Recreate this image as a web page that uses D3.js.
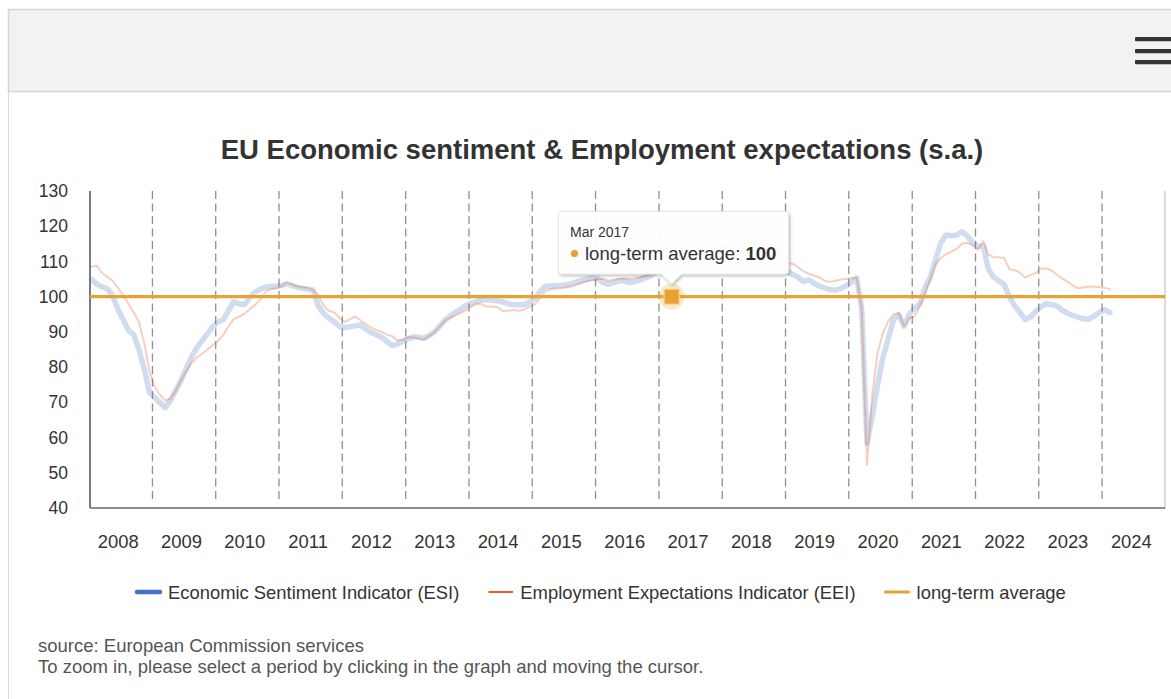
<!DOCTYPE html>
<html>
<head>
<meta charset="utf-8">
<script src="https://cdn.jsdelivr.net/npm/d3@7"></script>
<style>
  html, body { margin: 0; padding: 0; background: #fff; }
  svg { display: block; font-family: "Liberation Sans", Arial, Helvetica, sans-serif; }
</style>
</head>
<body>
<svg id="chart" width="1171" height="699"></svg>
<script>
// Monthly series, Jan 2008 – Feb 2024 (seasonally adjusted)
const startYear = 2008;
const esiValues = [
  // 2008
  104.8, 103.6, 102.8, 102.2, 100.5, 96.5, 93.6, 90.5, 89.2, 85.0, 79.5, 72.8,
  // 2009
  71.3, 69.8, 68.5, 70.5, 73.3, 76.3, 79.6, 83.0, 85.5, 87.5, 89.5, 91.5,
  // 2010
  92.8, 93.5, 96.0, 98.6, 98.0, 97.7, 99.6, 101.3, 102.1, 102.7, 102.9, 103.0,
  // 2011
  103.2, 103.6, 103.2, 102.7, 102.4, 102.1, 101.9, 97.5, 95.2, 94.0, 92.9, 91.5,
  // 2012
  91.2, 91.5, 91.7, 92.0, 90.8, 89.8, 89.2, 88.5, 87.3, 86.1, 86.5, 87.4,
  // 2013
  88.0, 88.6, 88.5, 88.2, 88.9, 90.0, 91.5, 93.3, 94.5, 95.6, 96.5, 97.5,
  // 2014
  98.2, 98.7, 99.0, 99.2, 99.0, 98.8, 98.5, 98.0, 97.7, 97.7, 97.7, 98.4,
  // 2015
  99.4, 101.5, 102.9, 103.0, 103.1, 103.2, 103.4, 103.7, 104.2, 104.6, 105.0, 105.3,
  // 2016
  105.0, 104.0, 103.5, 104.0, 104.5, 104.5, 104.0, 104.2, 104.8, 105.3, 106.0, 107.2,
  // 2017
  108.0, 108.5, 109.5, 109.8, 110.3, 111.0, 111.8, 112.0, 113.0, 114.0, 114.5, 114.8,
  // 2018
  114.5, 113.8, 112.5, 112.0, 112.0, 112.2, 111.5, 111.3, 110.5, 109.8, 109.2, 108.0,
  // 2019
  107.0, 106.2, 105.5, 104.3, 104.8, 103.8, 103.0, 102.5, 102.0, 101.8, 102.3, 103.0,
  // 2020
  104.0, 105.3, 97.0, 58.4, 66.0, 75.0, 82.5, 88.0, 93.5, 94.9, 91.6, 95.0,
  // 2021
  96.8, 98.0, 102.5, 105.5, 110.4, 115.3, 117.5, 117.3, 117.5, 118.5, 117.2, 115.5,
  // 2022
  114.3, 114.3, 108.0, 105.5, 104.5, 103.5, 100.0, 97.3, 95.5, 93.5, 94.3, 95.8,
  // 2023
  97.2, 98.0, 97.8, 97.4, 96.2, 95.3, 94.7, 94.2, 93.7, 93.6, 94.4, 95.5,
  // 2024
  96.3, 95.5
];
const eeiValues = [
  // 2008
  108.5, 108.8, 106.8, 105.6, 104.6, 102.6, 100.5, 98.0, 95.5, 92.8, 86.8, 78.8,
  // 2009
  74.2, 72.0, 70.5, 71.0, 73.2, 76.3, 78.8, 81.2, 82.8, 83.8, 85.0, 86.3,
  // 2010
  87.5, 89.2, 91.5, 93.6, 94.3, 95.1, 96.4, 97.6, 99.2, 101.4, 102.1, 102.3,
  // 2011
  103.0, 104.0, 103.5, 102.9, 102.7, 102.5, 101.9, 100.5, 97.5, 96.0, 95.6, 94.0,
  // 2012
  92.8, 93.6, 94.4, 93.3, 92.2, 91.2, 90.5, 90.0, 89.2, 88.8, 87.6, 87.7,
  // 2013
  88.5, 88.4, 88.1, 87.8, 88.8, 89.8, 91.5, 93.2, 94.0, 94.7, 95.4, 96.1,
  // 2014
  97.2, 98.0, 97.8, 97.2, 97.2, 97.0, 95.9, 96.0, 96.2, 96.0, 96.3, 97.1,
  // 2015
  97.8, 99.5, 101.5, 102.1, 102.3, 102.4, 102.6, 102.9, 103.4, 103.9, 104.4, 104.7,
  // 2016
  105.0, 105.0, 104.5, 104.8, 105.0, 105.2, 105.0, 105.2, 105.5, 106.0, 106.5, 107.5,
  // 2017
  108.0, 108.3, 108.8, 109.5, 110.0, 110.5, 111.0, 111.5, 112.0, 112.5, 112.8, 113.0,
  // 2018
  113.2, 113.0, 112.5, 112.0, 111.5, 111.2, 111.0, 110.8, 110.5, 110.2, 110.0, 109.8,
  // 2019
  109.5, 109.3, 108.3, 107.2, 106.5, 106.0, 105.5, 104.5, 104.2, 104.5, 104.8, 105.0,
  // 2020
  105.2, 105.3, 97.0, 52.3, 72.0, 84.0, 89.5, 93.0, 95.0, 95.3, 91.6, 93.8,
  // 2021
  94.5, 97.5, 100.8, 105.0, 109.2, 111.0, 112.1, 112.8, 113.6, 115.0, 115.3, 114.6,
  // 2022
  113.3, 115.8, 112.0, 111.2, 111.2, 111.0, 107.8, 107.5, 106.8, 105.4, 106.2, 106.7,
  // 2023
  108.0, 108.0, 107.5, 106.3, 105.2, 104.3, 103.2, 102.4, 102.6, 102.9, 102.8, 102.7,
  // 2024
  102.5, 102.1
];
const longTermAverage = 100;
const yTicks = [40, 50, 60, 70, 80, 90, 100, 110, 120, 130];
const yearLabels = [2008, 2009, 2010, 2011, 2012, 2013, 2014, 2015, 2016,
                    2017, 2018, 2019, 2020, 2021, 2022, 2023, 2024];
const seriesNames = ["Economic Sentiment Indicator (ESI)",
                     "Employment Expectations Indicator (EEI)",
                     "long-term average"];
const seriesColors = ["#4472c4", "#e2602a", "#e9a231"];
const hoverMonth = new Date(2017, 2, 15);
const hoverLabel = "Mar 2017";

// Each observation sits in the middle of its month
const monthDate = i => new Date(startYear + Math.floor(i / 12), i % 12, 15);
const esi = esiValues.map((v, i) => ({ date: monthDate(i), value: v }));
const eei = eeiValues.map((v, i) => ({ date: monthDate(i), value: v }));

const svg = d3.select("#chart");
const FONT = '"Liberation Sans", Arial, Helvetica, sans-serif';
const LABEL_SIZE = 18.4;

// Frame and export-menu band
svg.append("rect").attr("x", 8.5).attr("y", 9.5).attr("width", 1170).attr("height", 700)
  .attr("fill", "#fff").attr("stroke", "#dcdcdc");
svg.append("rect").attr("x", 8.5).attr("y", 9.5).attr("width", 1170).attr("height", 82)
  .attr("fill", "#f2f2f2").attr("stroke", "#d7d7d7").attr("stroke-width", 1.5);
[37, 49, 60].forEach(yy => {
  svg.append("rect").attr("x", 1135).attr("y", yy).attr("width", 45).attr("height", 4.2)
    .attr("rx", 1).attr("fill", "#333");
});

// Title
svg.append("text").attr("x", 602).attr("y", 159).attr("text-anchor", "middle")
  .attr("font-size", 27.5).attr("font-weight", "bold").attr("fill", "#333")
  .text("EU Economic sentiment & Employment expectations (s.a.)");

// Scales
const plot = { left: 90, right: 1165, top: 191, bottom: 508 };
const x = d3.scaleTime()
  .domain([new Date(2008, 0, 1), new Date(2025, 0, 1)])
  .range([89, 1165.5]);
const y = d3.scaleLinear().domain([40, 130]).range([plot.bottom, plot.top]);

// Year separators (dashed)
const yearStarts = d3.range(2009, 2025).map(yr => new Date(yr, 0, 1));
svg.append("g").selectAll("line").data(yearStarts).join("line")
  .attr("x1", d => x(d)).attr("x2", d => x(d))
  .attr("y1", plot.top).attr("y2", plot.bottom - 5)
  .attr("stroke", "#8f8f8f").attr("stroke-width", 1.3)
  .attr("stroke-dasharray", "8,4.5");

// Right plot border
svg.append("line").attr("x1", plot.right).attr("x2", plot.right)
  .attr("y1", plot.top).attr("y2", plot.bottom + 1)
  .attr("stroke", "#cfcfcf").attr("stroke-width", 1.5);

// Y axis
const yAxis = svg.append("g").attr("transform", `translate(${plot.left},0)`)
  .call(d3.axisLeft(y).tickValues(yTicks).tickSize(0).tickPadding(22));
yAxis.select(".domain").remove();
yAxis.selectAll("text").attr("font-size", 17.5).attr("font-family", FONT).attr("fill", "#333");

// X axis, year labels centred in each year band
const xAxis = svg.append("g").attr("transform", `translate(0,${plot.bottom})`)
  .call(d3.axisBottom(x)
    .tickValues(yearLabels.map(yr => new Date(yr, 5, 15)))
    .tickFormat(d3.timeFormat("%Y")).tickSize(0).tickPadding(27.3));
xAxis.select(".domain").remove();
xAxis.selectAll("text").attr("font-size", LABEL_SIZE).attr("font-family", FONT).attr("fill", "#333");

// Axis lines
svg.append("line").attr("x1", plot.left).attr("x2", plot.left)
  .attr("y1", plot.top).attr("y2", plot.bottom)
  .attr("stroke", "#5a5a5a").attr("stroke-width", 1.6);
svg.append("line").attr("x1", plot.left).attr("x2", plot.right)
  .attr("y1", plot.bottom).attr("y2", plot.bottom)
  .attr("stroke", "#6a6a6a").attr("stroke-width", 1.6);

// Series lines (dimmed while the average line is hovered)
const line = d3.line().x(d => x(d.date)).y(d => y(d.value)).curve(d3.curveLinear);
svg.append("path").datum(esi).attr("d", line)
  .attr("fill", "none").attr("stroke", seriesColors[0]).attr("stroke-width", 5.5)
  .attr("stroke-linejoin", "round").attr("stroke-linecap", "round")
  .attr("opacity", 0.25);
svg.append("path").datum(eei).attr("d", line)
  .attr("fill", "none").attr("stroke", seriesColors[1]).attr("stroke-width", 2)
  .attr("stroke-linejoin", "round").attr("stroke-linecap", "round")
  .attr("opacity", 0.3);

// Long-term average
svg.append("line")
  .attr("x1", plot.left).attr("x2", plot.right)
  .attr("y1", y(longTermAverage)).attr("y2", y(longTermAverage))
  .attr("stroke", seriesColors[2]).attr("stroke-width", 3.4);

// Hover marker with halo
const hx = x(hoverMonth), hy = y(longTermAverage);
svg.append("circle").attr("cx", hx).attr("cy", hy).attr("r", 13)
  .attr("fill", seriesColors[2]).attr("opacity", 0.25);
svg.append("rect").attr("x", hx - 7.5).attr("y", hy - 7.5)
  .attr("width", 15).attr("height", 15)
  .attr("fill", seriesColors[2]).attr("stroke", "#f7d9a8").attr("stroke-width", 1);

// Tooltip
const defs = svg.append("defs");
const filt = defs.append("filter").attr("id", "tipShadow")
  .attr("x", "-10%").attr("y", "-20%").attr("width", "130%").attr("height", "150%");
filt.append("feDropShadow").attr("dx", 1.2).attr("dy", 1.5)
  .attr("stdDeviation", 1.8).attr("flood-color", "#000").attr("flood-opacity", 0.28);

const tipL = 558.5, tipR = 788.5, tipT = 211.5, tipB = 274, r = 3;
const tipPath = d3.path();
tipPath.moveTo(tipL + r, tipT);
tipPath.lineTo(tipR - r, tipT);
tipPath.quadraticCurveTo(tipR, tipT, tipR, tipT + r);
tipPath.lineTo(tipR, tipB - r);
tipPath.quadraticCurveTo(tipR, tipB, tipR - r, tipB);
tipPath.lineTo(hx + 10, tipB);
tipPath.lineTo(hx, tipB + 10);
tipPath.lineTo(hx - 10, tipB);
tipPath.lineTo(tipL + r, tipB);
tipPath.quadraticCurveTo(tipL, tipB, tipL, tipB - r);
tipPath.lineTo(tipL, tipT + r);
tipPath.quadraticCurveTo(tipL, tipT, tipL + r, tipT);
tipPath.closePath();
svg.append("path").attr("d", tipPath.toString())
  .attr("fill", "#fff").attr("fill-opacity", 0.97)
  .attr("stroke", "#e6e6e6").attr("stroke-width", 1)
  .attr("filter", "url(#tipShadow)");
svg.append("text").attr("x", 570).attr("y", 237)
  .attr("font-size", 14).attr("fill", "#333").text(hoverLabel);
svg.append("circle").attr("cx", 574.5).attr("cy", 253.5).attr("r", 3.6)
  .attr("fill", seriesColors[2]);
const tipText = svg.append("text").attr("x", 585).attr("y", 259.5)
  .attr("font-size", 18.5).attr("fill", "#333");
tipText.append("tspan").text(seriesNames[2] + ": ");
tipText.append("tspan").attr("font-weight", "bold").text(longTermAverage);

// Legend
const legendSymbols = [
  { width: 4.5 }, { width: 2.2 }, { width: 3.2 }
];
let lx = 137;
const legend = svg.append("g").attr("font-size", LABEL_SIZE).attr("fill", "#333");
seriesNames.forEach((name, i) => {
  legend.append("line").attr("x1", lx).attr("x2", lx + 23)
    .attr("y1", 592).attr("y2", 592)
    .attr("stroke", seriesColors[i]).attr("stroke-width", legendSymbols[i].width)
    .attr("stroke-linecap", "round");
  const t = legend.append("text").attr("x", lx + 31).attr("y", 598.5).text(name);
  lx = lx + 31 + t.node().getComputedTextLength() + 30;
});

// Source note
const note = svg.append("g").attr("font-size", 18.5).attr("fill", "#555");
note.append("text").attr("x", 38).attr("y", 652).text("source: European Commission services");
note.append("text").attr("x", 38).attr("y", 673)
  .text("To zoom in, please select a period by clicking in the graph and moving the cursor.");
</script>
</body>
</html>
